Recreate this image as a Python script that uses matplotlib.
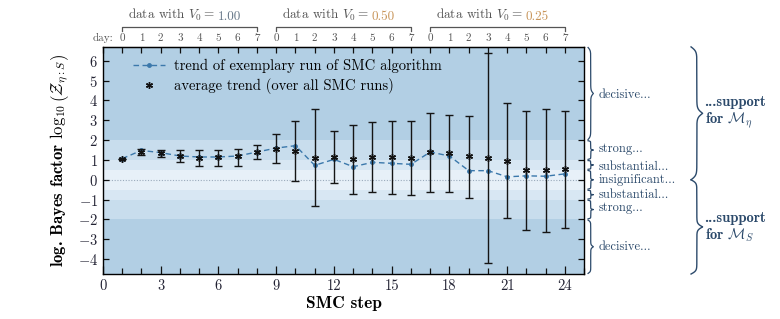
import numpy as np
import matplotlib
matplotlib.use("Agg")
import matplotlib.pyplot as plt
import matplotlib.transforms as mtransforms

plt.rcParams['mathtext.fontset'] = 'cm'
plt.rcParams['font.family'] = ['cmr10', 'DejaVu Serif']
plt.rcParams['axes.formatter.use_mathtext'] = True

# ---------------- data ----------------
steps = list(range(1, 25))
avg_trend = [1.07, 1.42, 1.37, 1.20, 1.12, 1.13, 1.18, 1.38, 1.56, 1.47, 1.12, 1.13,
             1.03, 1.15, 1.13, 1.12, 1.39, 1.34, 1.19, 1.09, 0.97, 0.50, 0.50, 0.56]
err_low = [1.07, 1.24, 1.17, 0.88, 0.72, 0.72, 0.72, 1.05, 0.87, -0.04, -1.32, -0.15,
           -0.70, -0.64, -0.71, -0.75, -0.62, -0.59, -0.93, -4.20, -1.95, -2.54, -2.61, -2.44]
err_high = [1.07, 1.57, 1.51, 1.52, 1.51, 1.51, 1.57, 1.73, 2.30, 2.95, 3.55, 2.45,
            2.76, 2.93, 2.97, 2.95, 3.35, 3.25, 3.23, 6.39, 3.87, 3.48, 3.55, 3.48]
exemplary = [1.07, 1.48, 1.37, 1.20, 1.15, 1.15, 1.20, 1.40, 1.60, 1.72, 0.73, 1.03,
             0.66, 0.88, 0.83, 0.78, 1.40, 1.20, 0.46, 0.46, 0.15, 0.20, 0.18, 0.30]

x_ticks = [0, 3, 6, 9, 12, 15, 18, 21, 24]
y_ticks = [-4, -3, -2, -1, 0, 1, 2, 3, 4, 5, 6]
day_labels = ['0', '1', '2', '3', '4', '5', '6', '7']
groups = ['1.00', '0.50', '0.25']
band_edges = [-4.75, -2, -1, -0.5, 0.5, 1, 2, 6.7]
band_names = ['decisive...', 'strong...', 'substantial...', 'insignificant...',
              'substantial...', 'strong...', 'decisive...']

# ---------------- figure ----------------
fig = plt.figure(figsize=(7.8, 3.19), dpi=100)
ax = fig.add_axes([0.132, 0.141, 0.617, 0.712])
ylo, yhi = -4.75, 6.7
ax.set_xlim(0, 25)
ax.set_ylim(ylo, yhi)

band_cols = ['#b2cfe4', '#c8dded', '#d8e7f3', '#e7f0f8', '#d8e7f3', '#c8dded', '#b2cfe4']
for i in range(len(band_edges) - 1):
    ax.axhspan(band_edges[i], band_edges[i + 1], color=band_cols[i], lw=0, zorder=0)
ax.axhline(0, color='#9aaabb', lw=0.8, ls=(0, (1, 1.5)), zorder=1)

blue = '#3b78ab'
ax.plot(steps, exemplary, ls='--', color=blue, lw=1.0, marker='o', ms=2.5,
        dashes=(4, 2.5), zorder=3, label='trend of exemplary run of SMC algorithm')
yerr = [np.array(avg_trend) - np.array(err_low), np.array(err_high) - np.array(avg_trend)]
ax.errorbar(steps, avg_trend, yerr=yerr, fmt='none', ecolor='#151515', elinewidth=1.0,
            capsize=3, capthick=1.0, zorder=4)
ax.plot(steps, avg_trend, ls='none', marker=(6, 2, 0), ms=5, mew=1.0, color='#111111',
        zorder=5, label='average trend (over all SMC runs)')

ax.set_xticks(x_ticks)
ax.set_xticklabels([str(v) for v in x_ticks], fontsize=10.5, color='#222233')
ax.set_xticks(range(0, 26), minor=True)
ax.set_yticks(y_ticks)
ax.set_yticklabels([r'$%d$' % v for v in y_ticks], fontsize=10.5, color='#222233')
ax.tick_params(axis='both', which='both', direction='in', top=False, right=True,
               length=4, width=0.9, color='#111111')
ax.tick_params(axis='x', which='major', length=6, pad=4)
for s in ax.spines.values():
    s.set_linewidth(1.0)

ax.set_xlabel('SMC step', fontsize=12.5, family='cmb10', labelpad=2)
ax.set_ylabel(r'log. Bayes factor $\log_{10}\left(\mathcal{Z}_{\eta{:}S}\right)$',
              fontsize=12, family='cmb10', labelpad=4)

leg = ax.legend(loc='upper left', bbox_to_anchor=(0.045, 0.985), frameon=False,
                fontsize=10.5, handlelength=2.2, borderaxespad=0.2, labelspacing=0.3,
                handletextpad=0.6)

# top day axis
top = ax.secondary_xaxis('top')
top_pos = [0] + steps
top_lab = ['day:'] + day_labels * 3
top.set_xticks(top_pos)
top.set_xticklabels(top_lab, fontsize=8, color='#555555')
top.tick_params(direction='in', length=4, width=0.9, pad=3, color='#111111')

# group brackets
trans_xa = mtransforms.blended_transform_factory(ax.transData, ax.transAxes)
for g, val in enumerate(groups):
    x0, x1 = 1 + 8 * g, 8 + 8 * g
    ax.plot([x0, x0, x1, x1], [1.070, 1.088, 1.088, 1.070], transform=trans_xa,
            color='#555555', lw=0.9, clip_on=False)
    t1 = ax.text((x0 + x1) / 2 - 0.95, 1.105, r'data with $V_0 = $', transform=trans_xa,
                 ha='center', va='bottom', fontsize=9.5, color='#555555')
    vcol = '#667788' if g == 0 else '#c8955a'
    ax.annotate(val, xy=(1, 0), xycoords=t1, xytext=(2, 0), textcoords='offset points',
                ha='left', va='bottom', fontsize=9.5, color=vcol)

# braces
def brace(y0, y1, xa, width, lw=0.9, color='#2c4a6b'):
    n = 200
    span = y1 - y0
    half = np.linspace(0, 0.5, n)
    beta = 60.0
    h = 1 / (1 + np.exp(-beta * (half - half[0]))) + 1 / (1 + np.exp(-beta * (half - half[-1])))
    prof = np.concatenate([h, h[-2::-1]])
    ys = np.concatenate([y0 + half * span, y0 + (1 - half[-2::-1]) * span])
    xs = xa + (prof - 0.5) * width
    ax.plot(xs, ys, transform=mtransforms.blended_transform_factory(ax.transAxes, ax.transData),
            color=color, lw=lw, clip_on=False)

tcol = '#2c4a6b'
ty = mtransforms.blended_transform_factory(ax.transAxes, ax.transData)
label_y = [-3.36, -1.42, -0.76, 0.0, 0.67, 1.55, 4.27]
for i in range(len(band_edges) - 1):
    a, b = band_edges[i], band_edges[i + 1]
    brace(a + 0.03, b - 0.03, 1.008, 0.011)
    ax.text(1.030, label_y[i], band_names[i], transform=ty,
            fontsize=9, color=tcol, va='center', ha='left')

brace(ylo, 0, 1.222, 0.024, lw=1.0)
brace(0, yhi, 1.222, 0.024, lw=1.0)
ax.text(1.250, 3.4, '...support\nfor $\\mathcal{M}_{\\eta}$', transform=ty, fontsize=10.5,
        family='cmb10', color=tcol, va='center', ha='left', linespacing=1.1)
ax.text(1.250, -2.4, '...support\nfor $\\mathcal{M}_{S}$', transform=ty, fontsize=10.5,
        family='cmb10', color=tcol, va='center', ha='left', linespacing=1.1)

fig.savefig('out.png', dpi=100)
